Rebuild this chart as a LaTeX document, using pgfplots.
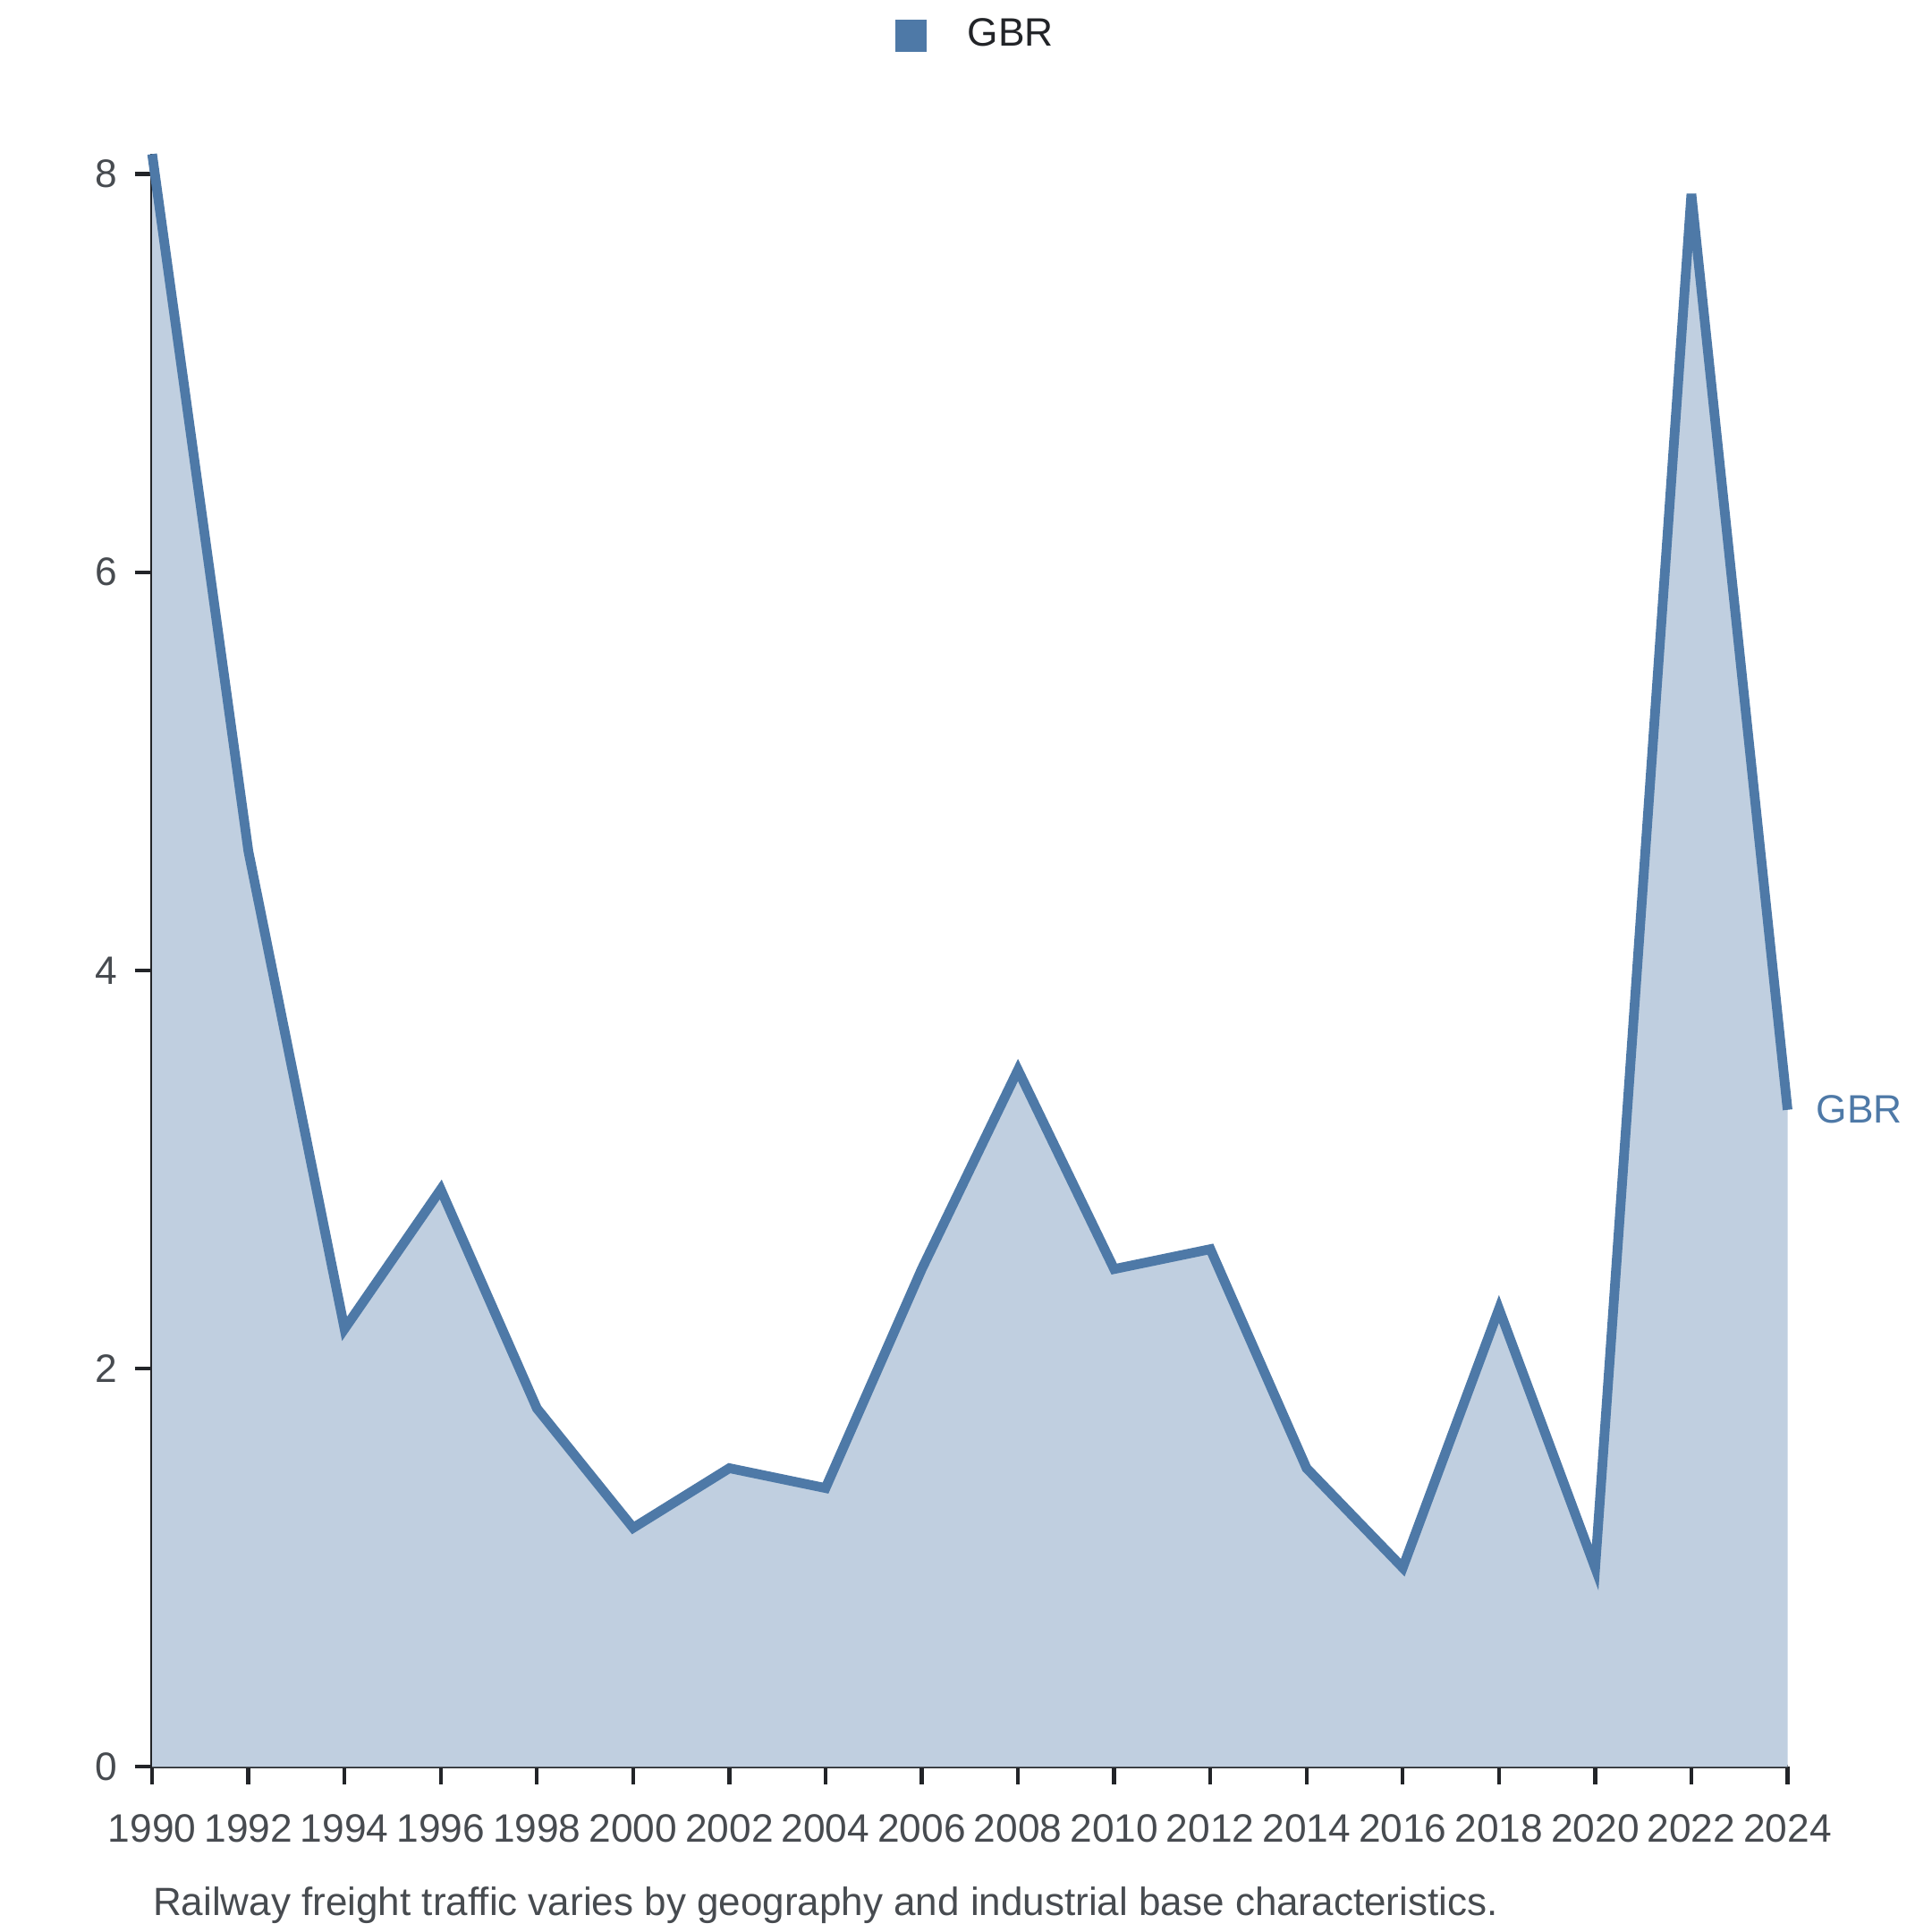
\documentclass[border=0pt]{standalone}
\usepackage{pgfplots}
\pgfplotsset{compat=1.18}
\usepackage{fontspec}
\setmainfont{Liberation Sans}
\definecolor{gbr}{HTML}{4E79A7}
\definecolor{gbrfill}{HTML}{C0CFE0}
\definecolor{axc}{HTML}{222428}
\definecolor{txt}{HTML}{474B50}
\begin{document}
\begin{tikzpicture}
\useasboundingbox (-31.5pt,-34.2pt) rectangle (368.5pt,365.8pt);
\begin{axis}[
  scale only axis, width=338.6pt, height=333.9pt,
  clip=false,
  xmin=1990, xmax=2024, ymin=0, ymax=8.1,
  axis lines=left, axis line style={-, axc, line width=0.8pt},
  xtick={1990,1992,...,2024}, ytick={0,2,4,6,8},
  tick align=outside, major tick length=3.6pt,
  tick style={axc, line width=0.8pt},
  xticklabel style={font=\fontsize{8.2}{9}\selectfont, text=txt, yshift=-2.8pt},
  yticklabel style={font=\fontsize{8.2}{9}\selectfont, text=txt},
  /pgf/number format/1000 sep={},
  /pgf/number format/assume math mode=true,
  legend style={at={(0.5,1)}, anchor=center, yshift=24.5pt, xshift=1.9pt, draw=none, fill=none, font=\fontsize{8.2}{9}\selectfont, text=axc},
  legend image code/.code={\fill[gbr] (0pt,-2.3pt) rectangle (4.6pt,2.3pt); \path[draw=none] (0pt,0pt) -- (12pt,0pt);},
]
\addplot[fill=gbrfill, draw=none, forget plot] coordinates {
(1990,8.1) (1992,4.6) (1994,2.2) (1996,2.9) (1998,1.8) (2000,1.2) (2002,1.5) (2004,1.4) (2006,2.5) (2008,3.5) (2010,2.5) (2012,2.6) (2014,1.5) (2016,1.0) (2018,2.3) (2020,1.0) (2022,7.9) (2024,3.3)
} \closedcycle;
\addplot[gbr, line width=2pt, mark=none] coordinates {
(1990,8.1) (1992,4.6) (1994,2.2) (1996,2.9) (1998,1.8) (2000,1.2) (2002,1.5) (2004,1.4) (2006,2.5) (2008,3.5) (2010,2.5) (2012,2.6) (2014,1.5) (2016,1.0) (2018,2.3) (2020,1.0) (2022,7.9) (2024,3.3)
};
\addlegendentry{GBR}
\node[anchor=west, text=gbr, font=\fontsize{8.2}{9}\selectfont, inner sep=0pt, xshift=5.8pt] at (axis cs:2024,3.3) {GBR};
\end{axis}
\node[anchor=west, text=txt, font=\fontsize{8.15}{9}\selectfont, inner sep=0pt] at (0pt,-28.7pt) {Railway freight traffic varies by geography and industrial base characteristics.};
\end{tikzpicture}
\end{document}
